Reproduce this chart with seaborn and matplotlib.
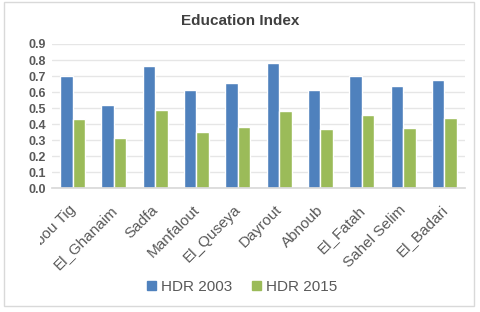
import matplotlib
matplotlib.use("Agg")
import matplotlib.pyplot as plt
import seaborn as sns
import pandas as pd
from matplotlib.patches import Rectangle
from matplotlib.transforms import ScaledTranslation, Bbox, TransformedBbox

categories = ["Abou Tig", "El_Ghanaim", "Sadfa", "Manfalout", "El_Quseya",
              "Dayrout", "Abnoub", "El_Fatah", "Sahel Selim", "El_Badari"]
hdr_2003 = [0.70, 0.52, 0.76, 0.61, 0.655, 0.78, 0.61, 0.70, 0.635, 0.675]
hdr_2015 = [0.43, 0.31, 0.49, 0.35, 0.38, 0.48, 0.37, 0.455, 0.375, 0.44]
series = ["HDR 2003", "HDR 2015"]
yticks = [0.0, 0.1, 0.2, 0.3, 0.4, 0.5, 0.6, 0.7, 0.8, 0.9]

df = pd.DataFrame({
    "District": categories * 2,
    "Value": hdr_2003 + hdr_2015,
    "Series": [series[0]] * len(categories) + [series[1]] * len(categories),
})

sns.set_theme(style="white")
plt.rcParams["font.family"] = ["Liberation Sans", "DejaVu Sans"]

fig = plt.figure(figsize=(4.8, 3.12), dpi=100)
ax = fig.add_axes([0.108, 0.397, 0.861, 0.462])

sns.barplot(data=df, x="District", y="Value", hue="Series", order=categories,
            hue_order=series, palette=["#4F81BD", "#9BBB59"], width=0.6,
            ax=ax, legend=False, saturation=1)

ax.set_ylim(0, 0.9)
ax.set_yticks(yticks)
ax.set_yticklabels([f"{v:.1f}" for v in yticks], fontsize=9, fontweight="bold", color="#595959")
ax.yaxis.grid(True, color="#E6E6E6", linewidth=1)
ax.set_axisbelow(True)
for s in ["top", "right", "left"]:
    ax.spines[s].set_visible(False)
ax.spines["bottom"].set_color("#D9D9D9")
ax.tick_params(axis="both", length=0, pad=4)
ax.set_xlabel("")
ax.set_ylabel("")
ax.set_xticks(range(len(categories)))
ax.set_xticklabels(categories, rotation=45, ha="right", rotation_mode="anchor",
                   fontsize=11, color="#595959")
ax.set_xlim(-0.5, len(categories) - 0.5)

offset = ScaledTranslation(-0.04, -0.09, fig.dpi_scale_trans)
clip = TransformedBbox(Bbox([[40 / 480, 0], [1, 1]]), fig.transFigure)
for lab in ax.get_xticklabels():
    lab.set_transform(lab.get_transform() + offset)
    lab.set_clip_box(clip)
    lab.set_clip_on(True)

fig.text(0.5, 0.934, "Education Index", ha="center", va="center",
         fontsize=11, fontweight="bold", color="#404040")

handles = [Rectangle((0, 0), 1, 1, color=c) for c in ["#4F81BD", "#9BBB59"]]
fig.legend(handles, series, loc="center", bbox_to_anchor=(0.505, 0.08), ncol=2,
           frameon=False, fontsize=11, handlelength=0.55, handleheight=0.55,
           columnspacing=1.3, handletextpad=0.35, labelcolor="#595959")

border = Rectangle((0.008, 0.02), 0.98, 0.975, transform=fig.transFigure,
                   fill=False, edgecolor="#D9D9D9", linewidth=1)
fig.patches.append(border)

fig.savefig("out.png", dpi=100)
